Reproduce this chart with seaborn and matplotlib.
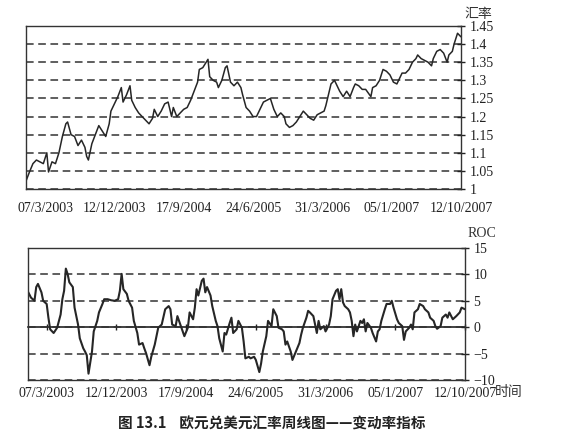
import numpy as np
import pandas as pd
import matplotlib
matplotlib.use("Agg")
import matplotlib.pyplot as plt
import seaborn as sns

# weekly EUR/USD close, week 0 = 20/12/2002
price_week = [0, 2, 4, 6, 8, 10, 12, 13, 15, 17, 19, 21, 23, 24, 26, 28, 30, 32, 34, 35,
              36, 38, 40, 42, 44, 46, 48, 49, 51, 53, 55, 56, 58, 60, 61, 63, 65, 67, 69, 71,
              73, 74, 76, 78, 80, 82, 84, 85, 87, 89, 91, 93, 95, 97, 99, 100, 102, 104, 105, 106,
              108, 110, 111, 113, 115, 116, 118, 120, 122, 124, 125, 127, 129, 131, 133, 135, 137, 139, 141, 143,
              145, 147, 149, 150, 152, 154, 156, 158, 160, 162, 164, 166, 168, 170, 172, 173, 175, 176, 178, 180,
              181, 183, 185, 187, 189, 190, 192, 194, 196, 199, 200, 202, 204, 206, 208, 210, 212, 214, 215, 217,
              219, 221, 223, 225, 226, 228, 230, 232, 234, 235, 237, 239, 241, 243, 244, 246, 247, 249, 251]
price = [1.022, 1.047, 1.07, 1.08, 1.075, 1.07, 1.10, 1.047, 1.075, 1.07, 1.10, 1.145, 1.18, 1.185, 1.15, 1.145, 1.12, 1.135, 1.115, 1.09,
         1.08, 1.125, 1.15, 1.175, 1.16, 1.145, 1.18, 1.215, 1.235, 1.255, 1.28, 1.24, 1.26, 1.285, 1.245, 1.225, 1.21, 1.20, 1.19, 1.18,
         1.195, 1.22, 1.20, 1.215, 1.235, 1.24, 1.20, 1.225, 1.20, 1.21, 1.22, 1.225, 1.245, 1.27, 1.295, 1.33, 1.335, 1.35, 1.358, 1.31,
         1.30, 1.295, 1.28, 1.30, 1.335, 1.34, 1.295, 1.285, 1.295, 1.28, 1.26, 1.225, 1.215, 1.20, 1.20, 1.22, 1.24, 1.245, 1.25, 1.22,
         1.20, 1.21, 1.20, 1.18, 1.17, 1.175, 1.185, 1.20, 1.215, 1.205, 1.195, 1.19, 1.205, 1.21, 1.215, 1.23, 1.27, 1.29, 1.30, 1.28,
         1.27, 1.255, 1.27, 1.255, 1.28, 1.29, 1.285, 1.275, 1.275, 1.255, 1.28, 1.285, 1.30, 1.33, 1.325, 1.315, 1.295, 1.29, 1.30, 1.32,
         1.32, 1.33, 1.35, 1.36, 1.37, 1.36, 1.355, 1.35, 1.34, 1.36, 1.38, 1.385, 1.375, 1.35, 1.37, 1.38, 1.40, 1.43, 1.42]

# rate of change indicator
roc_week = [0, 2, 4, 5, 6, 8, 9, 11, 12, 13, 15, 17, 19, 20, 21, 22, 23, 24, 26, 27,
            29, 30, 32, 33, 34, 35, 37, 38, 40, 41, 43, 44, 46, 48, 50, 52, 53, 54, 55, 57,
            58, 60, 61, 63, 64, 66, 67, 68, 70, 71, 73, 75, 77, 79, 81, 82, 83, 85, 86, 88,
            89, 90, 92, 93, 95, 96, 97, 98, 100, 101, 102, 103, 105, 106, 108, 109, 110, 112, 113, 114,
            116, 117, 118, 120, 121, 123, 124, 125, 127, 128, 130, 131, 133, 134, 135, 137, 138, 140, 141, 143,
            144, 146, 147, 148, 149, 151, 152, 154, 156, 157, 158, 160, 161, 162, 164, 165, 166, 167, 168, 170,
            171, 173, 174, 175, 177, 178, 179, 180, 181, 182, 184, 185, 186, 187, 188, 189, 191, 192, 193, 194,
            195, 197, 198, 200, 201, 202, 203, 205, 206, 208, 209, 210, 212, 213, 215, 216, 217, 219, 220, 221,
            222, 224, 225, 227, 228, 230, 231, 233, 234, 235, 237, 238, 240, 241, 242, 244, 245, 246, 248, 249, 251]
roc = [6.9, 5.6, 5.0, 7.6, 8.2, 6.6, 5.0, 4.4, 1.8, -0.4, -1.1, -0.1, 2.4, 5.3, 6.9, 11.1, 10.1, 8.5, 7.6, 3.7,
       0.5, -2.1, -4.0, -4.6, -5.3, -8.8, -4.6, -0.8, 1.2, 2.8, 4.4, 5.3, 5.3, 5.1, 5.0, 5.3, 6.9, 10.1, 7.2, 6.3,
       5.0, 3.7, 1.2, -1.1, -3.3, -3.0, -4.0, -4.9, -7.2, -5.6, -3.3, -0.1, 0.5, 3.4, 4.0, 3.4, 0.5, 0.2, 2.1, 0.2,
       -0.8, -1.7, -0.1, 2.8, 1.5, 3.7, 7.2, 6.0, 8.8, 9.2, 6.6, 7.6, 6.0, 4.0, 1.2, 0.2, -2.1, -4.6, -1.1, -1.4,
       0.8, 1.8, -1.1, -0.4, 1.2, -0.1, -2.7, -5.9, -5.6, -5.9, -5.6, -6.2, -8.5, -6.9, -4.6, -1.7, 1.2, 0.2, 3.4, 2.1,
       -0.1, -0.4, -0.8, -3.3, -2.7, -4.6, -6.2, -4.6, -3.0, -1.4, -0.1, 1.8, 3.1, 2.8, 2.1, 0.5, -1.1, 1.2, -0.4, 0.2,
       -0.8, 0.5, 2.1, 5.3, 6.9, 7.2, 5.3, 7.2, 4.7, 4.0, 3.4, 2.8, 1.2, -1.7, 0.5, -0.8, 1.2, 0.8, 1.5, -0.8,
       0.8, -0.1, -1.1, -2.7, -0.8, -0.4, 1.2, 3.4, 4.4, 4.4, 5.0, 3.7, 1.5, 0.8, 0.2, -2.4, -0.8, -0.1, 0.5, -0.4,
       2.8, 3.4, 4.4, 4.0, 3.4, 2.8, 1.8, 1.2, 0.2, -0.3, 0.2, 1.8, 2.4, 1.8, 2.8, 1.5, 1.8, 2.1, 2.8, 3.7, 3.4]

tick_weeks = [11, 51, 91, 131, 171, 211, 251]
tick_labels = ['07/3/2003', '12/12/2003', '17/9/2004', '24/6/2005', '31/3/2006', '05/1/2007', '12/10/2007']
price_ticks = [1.0, 1.05, 1.1, 1.15, 1.2, 1.25, 1.3, 1.35, 1.4, 1.45]
price_tick_labels = ['1', '1.05', '1.1', '1.15', '1.2', '1.25', '1.3', '1.35', '1.4', '1.45']
roc_ticks = [-10, -5, 0, 5, 10, 15]

df_price = pd.DataFrame({'week': price_week, 'price': price})
df_roc = pd.DataFrame({'week': roc_week, 'roc': roc})

sns.set_style('white')
plt.rcParams['font.family'] = ['Liberation Serif', 'Noto Sans CJK SC']
plt.rcParams['axes.unicode_minus'] = True

fig = plt.figure(figsize=(5.88, 4.42), dpi=100)
ax1 = fig.add_axes([26 / 588, 1 - 189 / 442, 435 / 588, 163 / 442])
ax2 = fig.add_axes([27.5 / 588, 1 - 380 / 442, 437.5 / 588, 132 / 442])

line_col = '#262626'
grid_kw = dict(color='#333333', linestyle=(0, (5, 3)), linewidth=1.1)

# top: exchange rate
sns.lineplot(data=df_price, x='week', y='price', ax=ax1, color=line_col, linewidth=1.1)
ax1.set_xlim(0, 251)
ax1.set_ylim(1.0, 1.45)
ax1.yaxis.tick_right()
ax1.set_yticks(price_ticks, price_tick_labels)
ax1.set_xticks(tick_weeks, tick_labels)
ax1.grid(axis='y', **grid_kw)
ax1.grid(axis='x', visible=False)
ax1.set_xlabel('')
ax1.set_ylabel('')
ax1.tick_params(axis='both', direction='inout', length=6, width=1, color='#222',
                labelsize=10, labelcolor='#222')
ax1.tick_params(axis='x', pad=6)
ax1.tick_params(axis='y', pad=3)
for s in ax1.spines.values():
    s.set_color('#333')
    s.set_linewidth(1.0)
ax1.text(1.008, 1.03, '汇率', transform=ax1.transAxes, ha='left', va='bottom',
         fontsize=10, color='#333', family=['Noto Sans CJK SC'])

# bottom: ROC
sns.lineplot(data=df_roc, x='week', y='roc', ax=ax2, color=line_col, linewidth=1.5)
ax2.set_xlim(0, 251)
ax2.set_ylim(-10, 15)
ax2.yaxis.tick_right()
ax2.set_yticks(roc_ticks)
ax2.set_xticks(tick_weeks, tick_labels)
ax2.grid(axis='y', **grid_kw)
ax2.grid(axis='x', visible=False)
ax2.set_xlabel('')
ax2.set_ylabel('')
ax2.tick_params(axis='x', length=0, pad=5, labelsize=10, labelcolor='#222')
ax2.tick_params(axis='y', direction='inout', length=6, width=1, color='#222',
                labelsize=10, labelcolor='#222', pad=3)
for s in ax2.spines.values():
    s.set_color('#333')
    s.set_linewidth(1.0)

zero_pos = (0 - roc_ticks[0]) / (roc_ticks[-1] - roc_ticks[0])
sec = ax2.secondary_xaxis(zero_pos)
sec.set_xticks(tick_weeks, [''] * len(tick_weeks))
sec.tick_params(direction='inout', length=5, width=1, color='#222')
sec.spines['bottom'].set_color('#222')
sec.spines['bottom'].set_linewidth(1.2)

ax2.text(1.005, 1.06, 'ROC', transform=ax2.transAxes, ha='left', va='bottom',
         fontsize=10, color='#333')
ax2.text(1.068, -0.09, '时间', transform=ax2.transAxes, ha='left', va='center',
         fontsize=10, color='#333', family=['Noto Sans CJK SC'])

fig.text(0.462, 1 - 424 / 442, '图 13.1    欧元兑美元汇率周线图——变动率指标',
         ha='center', va='center', fontsize=10.5, fontweight='bold', color='#222',
         family=['Noto Sans CJK SC'])

fig.savefig('out.png', dpi=100)
